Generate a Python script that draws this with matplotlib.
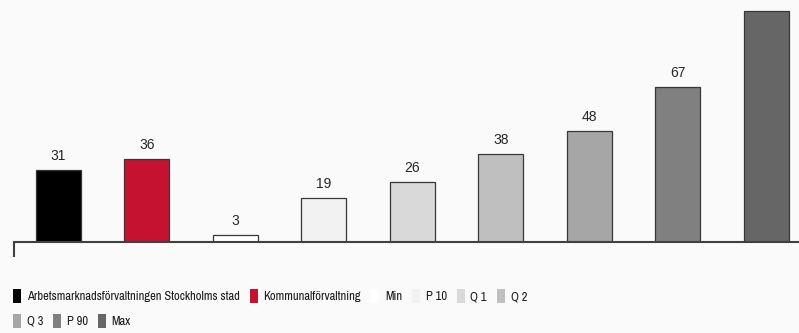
import numpy as np
import matplotlib.pyplot as plt
from matplotlib.patches import Rectangle

plt.rcParams['font.family'] = ['Liberation Sans', 'DejaVu Sans']
legend_font = ['Archivo Narrow', 'Liberation Sans', 'DejaVu Sans']

# data
categories = ['Arbetsmarknadsförvaltningen Stockholms stad', 'Kommunalförvaltning',
              'Min', 'P 10', 'Q 1', 'Q 2', 'Q 3', 'P 90', 'Max']
values = [31, 36, 3, 19, 26, 38, 48, 67, 100]
colors = ['#000000', '#c41230', '#ffffff', '#f2f2f2', '#d9d9d9',
          '#bfbfbf', '#a6a6a6', '#808080', '#666666']
show_label = [True, True, True, True, True, True, True, True, False]

W, H = 799, 333
bg = '#fafafa'
fig = plt.figure(figsize=(W / 100, H / 100), dpi=100, facecolor=bg)

# axes: left at x=14px, baseline at y=242px, one slot ~88.5px wide
slot = 88.5
ax = fig.add_axes([14 / W, (H - 242) / H, 9 * slot / W, 242 / H])
ax.set_facecolor(bg)

x = np.arange(len(values))
ax.bar(x, values, width=0.51, color=colors, edgecolor='#383838', linewidth=0.9, zorder=2)
for xi, v, s in zip(x, values, show_label):
    if s:
        ax.annotate(str(v), (xi, v), xytext=(0, 5), textcoords='offset points',
                    ha='center', va='bottom', fontsize=10, color='#262626')

ax.set_xlim(-0.5, 8.5)
ax.set_ylim(0, 104.8)
for side in ['top', 'right', 'left']:
    ax.spines[side].set_visible(False)
ax.spines['bottom'].set_color('#404040')
ax.spines['bottom'].set_linewidth(1.5)
ax.set_yticks([])
ax.set_xticks([-0.5])
ax.set_xticklabels([])
ax.tick_params(axis='x', direction='out', length=10.5, width=1.5, color='#404040')

# legend laid out in two rows like the reference
handles = [Rectangle((0, 0), 1, 1, facecolor=c, edgecolor='none') for c in colors]
common = dict(frameon=False, prop={'family': legend_font, 'size': 9},
              handlelength=0.65, handleheight=1.3, handletextpad=0.45,
              columnspacing=0.8, borderpad=0, borderaxespad=0, labelcolor='#1a1a1a')
row1 = 6
leg1 = fig.legend(handles[:row1], categories[:row1], ncol=row1, loc='upper left',
                  bbox_to_anchor=(13 / W, (H - 289) / H), **common)
leg2 = fig.legend(handles[row1:], categories[row1:], ncol=3, loc='upper left',
                  bbox_to_anchor=(13 / W, (H - 314) / H), **common)

fig.savefig('out.png', dpi=100, facecolor=bg)
